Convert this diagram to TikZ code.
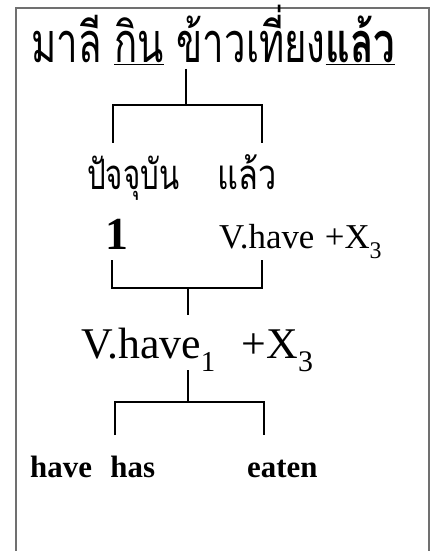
\documentclass[tikz,border=0pt]{standalone}
\usepackage{fontspec}
\setmainfont{Liberation Serif}
\newfontfamily\thai[Script=Thai]{Loma}
\definecolor{framegray}{HTML}{707070}
\newcommand{\fitw}[2]{\resizebox{#1}{\height}{#2}}
\newcommand{\lowsub}[2]{\raisebox{-0.3em}{\fontsize{#1}{#1}\selectfont #2}}
\begin{document}
\begin{tikzpicture}[x=1bp,y=-1bp,
  lbl/.style={inner sep=0pt, anchor=base west},
  br/.style={line width=1.6bp, black},
  frameline/.style={line width=2bp, framegray}]
\useasboundingbox (0,0) rectangle (431,551);
\draw[frameline] (15.5,551) -- (15.5,8.5) -- (428.5,8.5) -- (428.5,551);

\node[lbl] (title) at (31,63) {\fitw{364bp}{\thai\fontsize{56}{60}\selectfont มาลี \underline{กิน} ข้าวเที่ยง\underline{\bfseries แล้ว}}};

\node[lbl] (pres) at (87,190) {\fitw{92bp}{\thai\fontsize{42}{46}\selectfont ปัจจุบัน}};
\node[lbl] (perf) at (217,190) {\fitw{59bp}{\thai\fontsize{42}{46}\selectfont แล้ว}};

\node[lbl] (one) at (105,249) {\fontsize{46}{50}\selectfont\bfseries 1};
\node[lbl] (vhave) at (219,248) {\fontsize{35}{38}\selectfont V.have\hspace{0.3em}+X\lowsub{24}{3}};

\node[lbl] (vhave1) at (81,358) {\fontsize{44}{48}\selectfont V.have\lowsub{29}{1}\hspace{0.6em}+X\lowsub{30}{3}};

\node[lbl] (havehas) at (30,477) {\fontsize{31}{34}\selectfont\bfseries have\hspace{0.6em}has};
\node[lbl] (eaten) at (247,477) {\fontsize{31}{34}\selectfont\bfseries eaten};

% bracket 1
\coordinate (t1) at (186,69);
\coordinate (m1) at (186,105);
\coordinate (l1) at (113,105);
\coordinate (r1) at (262,105);
\coordinate (l1e) at (113,143);
\coordinate (r1e) at (262,143);
\draw[br] (t1) -- (m1);
\draw[br] (l1e) -- (l1) -- (r1) -- (r1e);

% bracket 2
\coordinate (l2s) at (112,260);
\coordinate (l2) at (112,288);
\coordinate (r2) at (262,288);
\coordinate (r2s) at (262,260);
\coordinate (m2) at (188,288);
\coordinate (m2e) at (188,315);
\draw[br] (l2s) -- (l2) -- (r2) -- (r2s);
\draw[br] (m2) -- (m2e);

% bracket 3
\coordinate (m3s) at (188,370);
\coordinate (m3) at (188,402);
\coordinate (l3) at (115,402);
\coordinate (r3) at (264,402);
\coordinate (l3e) at (115,435);
\coordinate (r3e) at (264,435);
\draw[br] (m3s) -- (m3);
\draw[br] (l3e) -- (l3) -- (r3) -- (r3e);
\end{tikzpicture}
\end{document}
